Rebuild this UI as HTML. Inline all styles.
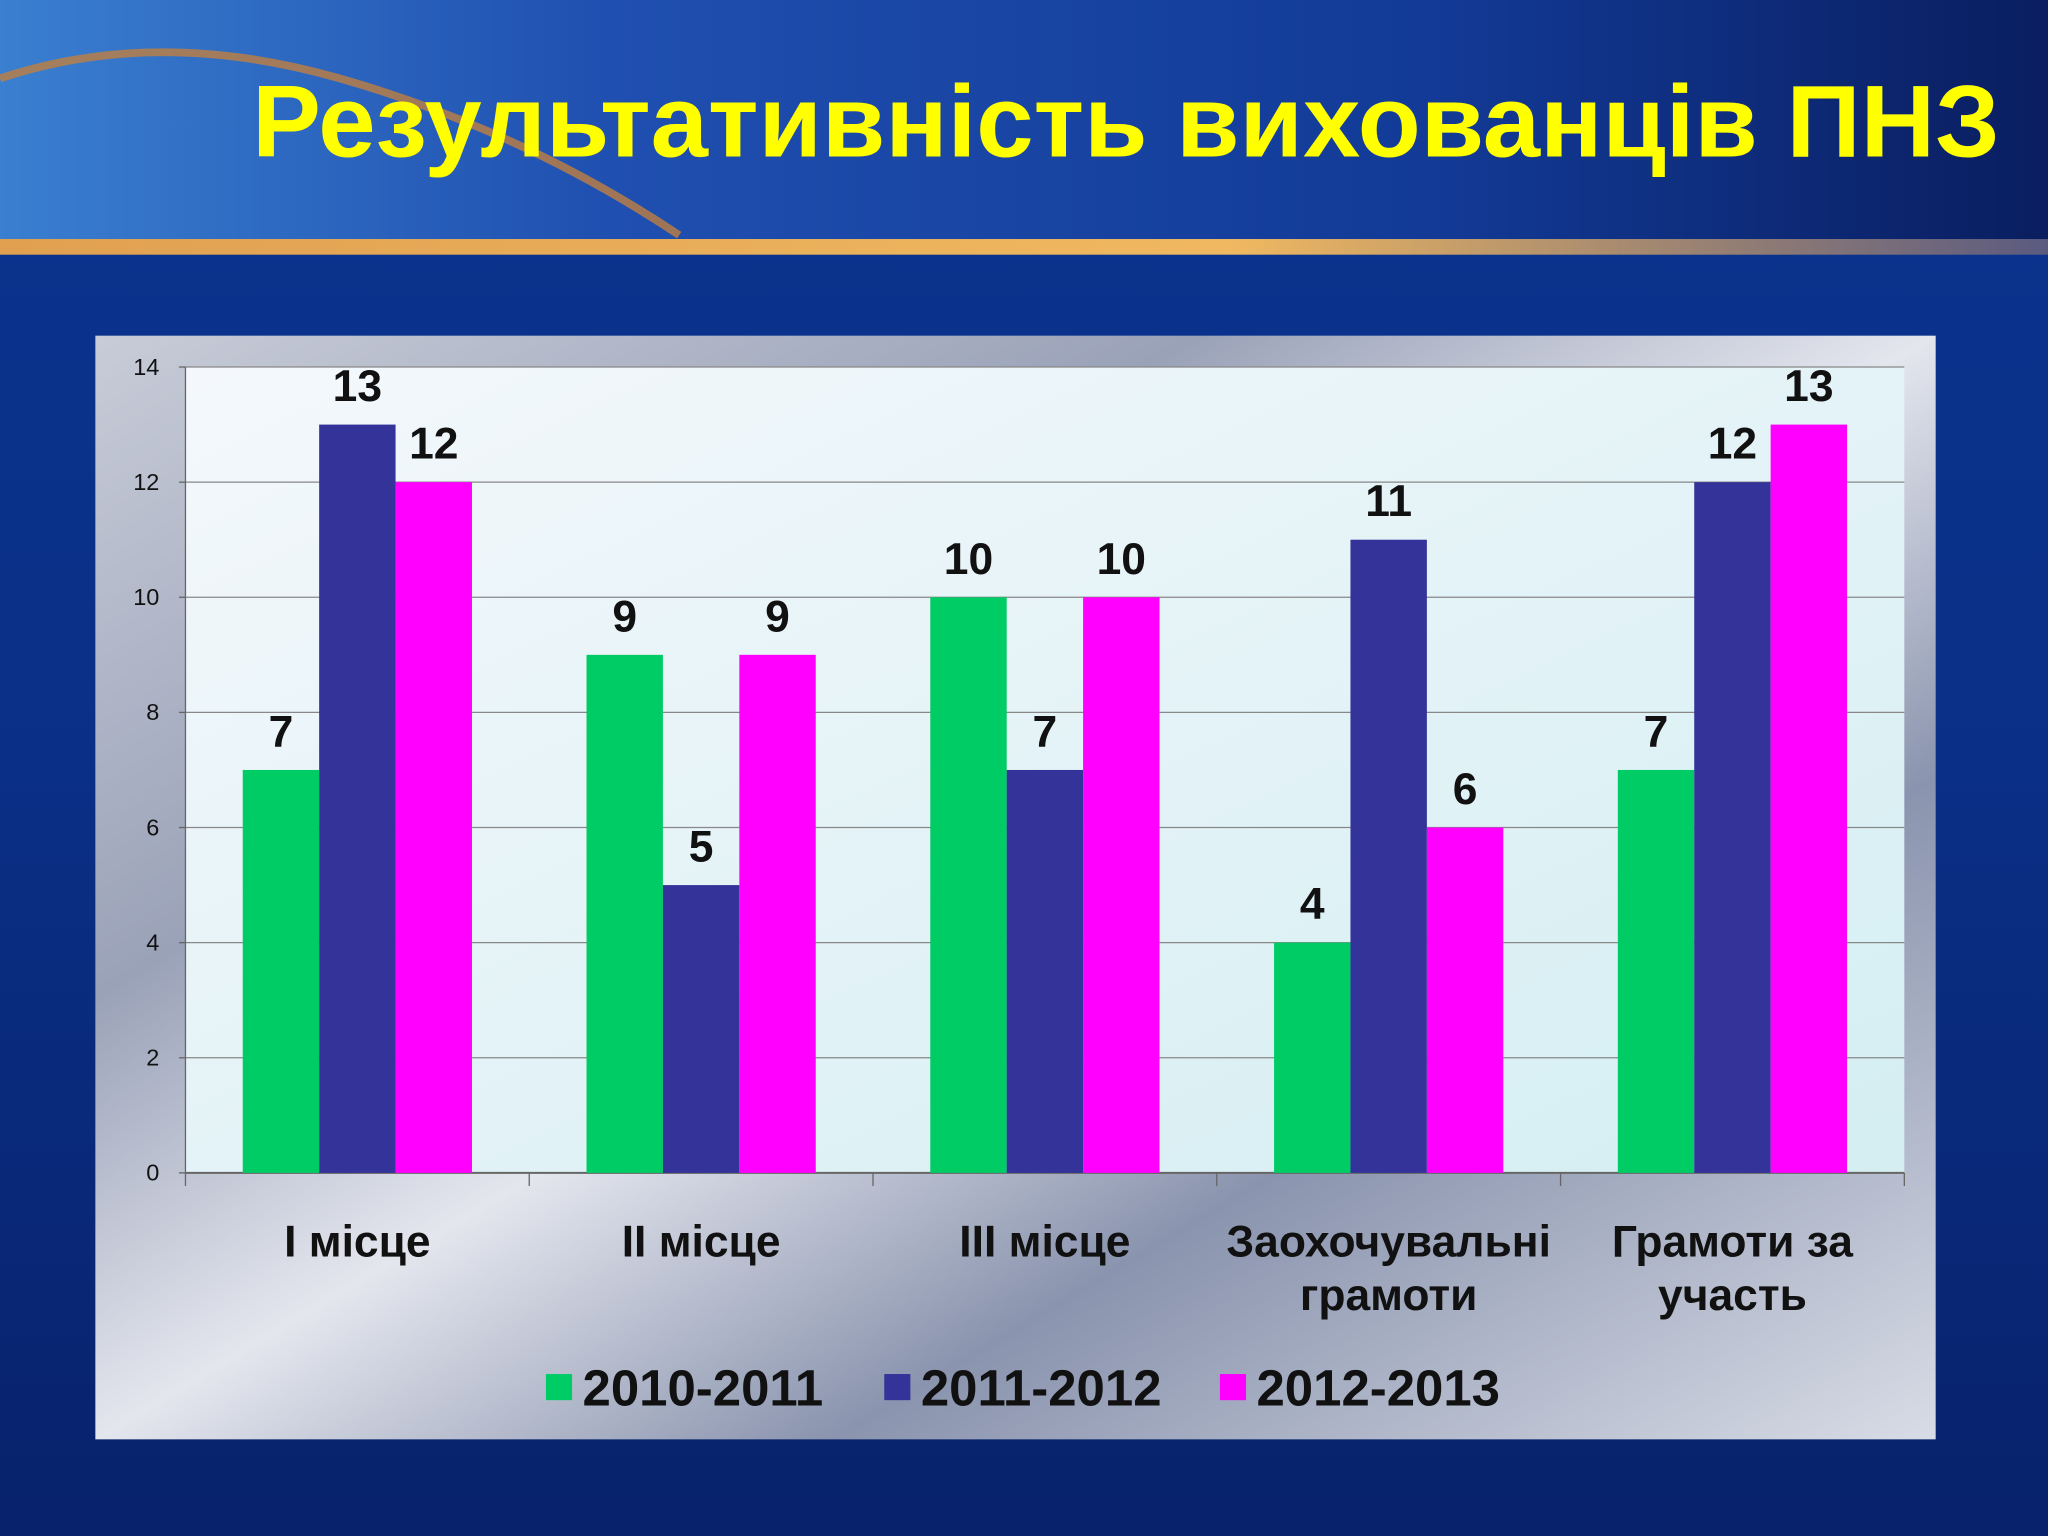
<!DOCTYPE html>
<html><head><meta charset="utf-8">
<style>
html,body{margin:0;padding:0;width:2048px;height:1536px;overflow:hidden;background:#0a2a7a;}
svg{display:block;}
text{font-family:"Liberation Sans",Arial,sans-serif;}
</style></head>
<body>
<svg id="chart" width="2048" height="1536" viewBox="0 0 1568 1176" xmlns="http://www.w3.org/2000/svg">
<defs>
<linearGradient id="bg" x1="0" y1="0" x2="0" y2="1">
<stop offset="0" stop-color="#0b3590"/><stop offset="0.5" stop-color="#0a2f86"/><stop offset="1" stop-color="#08226c"/>
</linearGradient>
<linearGradient id="banner" x1="0" y1="0" x2="1" y2="0">
<stop offset="0" stop-color="#3a7fd0"/><stop offset="0.3" stop-color="#1f4fb0"/><stop offset="0.7" stop-color="#123a96"/><stop offset="1" stop-color="#0a1e60"/>
</linearGradient>
<linearGradient id="stripe" x1="0" y1="0" x2="1" y2="0">
<stop offset="0" stop-color="#e0a050"/><stop offset="0.6" stop-color="#f0b860"/><stop offset="1" stop-color="#5a5a80"/>
</linearGradient>
<linearGradient id="panel" x1="0" y1="0" x2="1" y2="1">
<stop offset="0" stop-color="#c8ccd8"/><stop offset="0.3" stop-color="#9aa2b8"/><stop offset="0.5" stop-color="#e4e6ee"/><stop offset="0.7" stop-color="#8a94ae"/><stop offset="1" stop-color="#d8dce6"/>
</linearGradient>
<linearGradient id="plot" x1="0" y1="0" x2="1" y2="1">
<stop offset="0" stop-color="#f4f8fc"/><stop offset="1" stop-color="#d4eef2"/>
</linearGradient>
</defs>
<rect x="0" y="0" width="1568" height="1176" fill="url(#bg)"/>
<rect x="0" y="0" width="1568" height="185" fill="url(#banner)"/>
<path d="M0,60 Q120,20 260,60 T520,180" stroke="#c08040" stroke-width="6" fill="none" opacity="0.8"/>
<rect x="0" y="183" width="1568" height="12" fill="url(#stripe)"/>
<text x="862" y="120" text-anchor="middle" font-size="78" font-weight="bold" fill="#ffff00" textLength="1338" lengthAdjust="spacingAndGlyphs">Результативність вихованців ПНЗ</text>
<rect x="73" y="257" width="1409" height="845" fill="url(#panel)"/>
<rect x="142" y="281" width="1316" height="617" fill="url(#plot)"/>
<g id="grid"></g>
<g id="bars"></g>
<g id="labels"></g>
<g id="legend"></g>
</svg>
<script>
const categories = [["I місце"],["II місце"],["III місце"],["Заохочувальні","грамоти"],["Грамоти за","участь"]];
const seriesNames = ["2010-2011","2011-2012","2012-2013"];
const s1 = [7,9,10,4,7];
const s2 = [13,5,7,11,12];
const s3 = [12,9,10,6,13];
const yTicks = [0,2,4,6,8,10,12,14];
const colors = ["#00cc66","#333399","#ff00ff"];
const NS="http://www.w3.org/2000/svg";
const X0=142,X1=1458,Y0=898,Y1=281,YMAX=14;
const y = v => Y0-(v/YMAX)*(Y0-Y1);
const gw=(X1-X0)/categories.length, bw=58.5;
const x = (c,s) => X0+c*gw+(gw-3*bw)/2+s*bw;
function mk(tag,attrs,parent){const e=document.createElementNS(NS,tag);for(const k in attrs)e.setAttribute(k,attrs[k]);parent.appendChild(e);return e;}
const grid=document.getElementById('grid'),bars=document.getElementById('bars'),labels=document.getElementById('labels'),legend=document.getElementById('legend');
yTicks.forEach(t=>{
  const l=mk('line',{x1:X0,x2:X1,y1:y(t),y2:y(t),stroke:t===0?'#666':'#888','stroke-width':t===0?1.5:1},grid);
  
  
  const tk=mk('line',{x1:X0-5,x2:X0,y1:y(t),y2:y(t),stroke:'#666'},grid);
  
  
  const tx=mk('text',{x:X0-20,y:y(t)+6,'text-anchor':'end','font-size':18,fill:'#111'},grid);
  tx.textContent=t;
  
  
});
const ax=mk('line',{x1:X0,x2:X0,y1:Y1,y2:Y0,stroke:'#666'},grid);


for(let c=0;c<=categories.length;c++){
  const t=mk('line',{x1:X0+c*gw,x2:X0+c*gw,y1:Y0,y2:Y0+10,stroke:'#666'},grid);
  
  
}
[s1,s2,s3].forEach((ser,s)=>{
  ser.forEach((v,c)=>{
    const r=mk('rect',{x:x(c,s),y:y(v),width:bw,height:Y0-y(v),fill:colors[s]},bars);
    
    
    const t=mk('text',{x:x(c,s)+bw/2,y:y(v)-18,'text-anchor':'middle','font-size':34,'font-weight':'bold',fill:'#111'},labels);
    t.textContent=v;
    
    
  });
});
categories.forEach((lines,c)=>{
  lines.forEach((ln,i)=>{
    const t=mk('text',{x:X0+c*gw+gw/2,y:962+i*41,'text-anchor':'middle','font-size':34,'font-weight':'bold',fill:'#111'},labels);
    t.textContent=ln;
    
    
  });
});
const legX=[418,677,934];
seriesNames.forEach((n,i)=>{
  const r=mk('rect',{x:legX[i],y:1052,width:20,height:20,fill:colors[i]},legend);
  
  
  const t=mk('text',{x:legX[i]+28,y:1076,'font-size':39,'font-weight':'bold',fill:'#111'},legend);
  t.textContent=n;
  
  
});
</script>
</body></html>
